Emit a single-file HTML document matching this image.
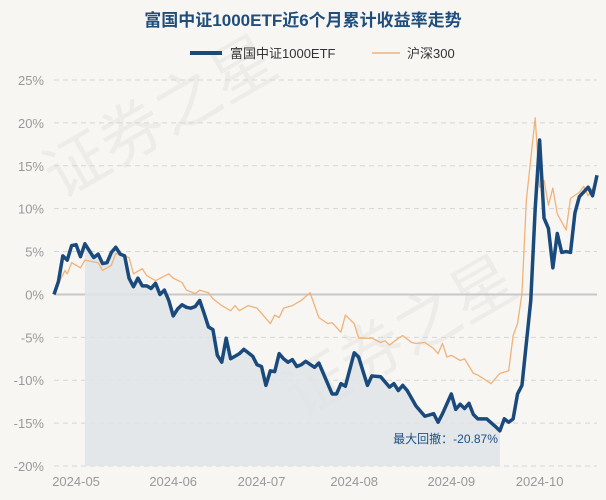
<!DOCTYPE html>
<html><head><meta charset="utf-8"><style>
html,body{margin:0;padding:0;background:#f8f6f2;}
svg{display:block;font-family:"Liberation Sans","Noto Sans CJK SC",sans-serif;}
</style></head><body>
<svg id="chart" width="606" height="500">
<text x="60" y="200" font-size="64" fill="#000" fill-opacity="0.04" transform="rotate(-30 60 200)">证券之星</text>
<text x="300" y="420" font-size="64" fill="#000" fill-opacity="0.04" transform="rotate(-30 300 420)">证券之星</text>
<text x="303" y="26" text-anchor="middle" font-size="17" font-weight="bold" fill="#1f4e7d">富国中证1000ETF近6个月累计收益率走势</text>
<g>
<line x1="190" y1="53" x2="222" y2="53" stroke="#1a4a7c" stroke-width="4"/>
<text x="230" y="58" font-size="13" fill="#333">富国中证1000ETF</text>
<line x1="372" y1="53" x2="400" y2="53" stroke="#f0b27a" stroke-width="1.5"/>
<text x="407" y="58" font-size="13" fill="#333">沪深300</text>
</g>
<g id="grid"></g>
<g id="area"></g>
<g id="lines"></g>
<g id="labels"></g>
</svg>
<script>
const yTicks=[25,20,15,10,5,0,-5,-10,-15,-20];
const xTickLabels=["2024-05","2024-06","2024-07","2024-08","2024-09","2024-10"];
const xTickDays=[5,27,47,68,90,110];
const totalDays=124;
const etfDays=[0,1,2,3,4,5,6,7,8,9,10,11,12,13,14,15,16,17,18,19,20,21,22,23,24,25,26,27,28,29,30,31,32,33,34,35,36,37,38,39,40,41,42,43,44,45,46,47,48,49,50,51,52,53,54,55,56,57,59,60,63,64,65,66,68,69,71,72,74,76,77,78,79,80,82,84,86,87,88,90,91,92,93,94,95,96,98,100,101,102,103,104,105,106,108,109,110,111,112,113,114,115,116,117,118,119,121,122,123];
const etfValues=[0,1.5,4.5,4,5.7,5.8,4.4,5.9,5.1,4.3,4.7,3.6,3.7,4.9,5.5,4.7,4.5,1.9,0.9,1.9,1.0,1.0,0.7,1.3,0,0.5,-0.7,-2.5,-1.7,-1.2,-1.5,-1.6,-1.4,-0.7,-2.2,-3.8,-4.1,-7.1,-7.9,-5.1,-7.5,-7.2,-6.9,-6.4,-6.8,-7.2,-8.2,-8.4,-10.6,-8.9,-9.0,-6.9,-7.5,-7.9,-7.6,-8.4,-8.2,-7.8,-8.5,-8.0,-11.6,-11.6,-10.4,-10.7,-6.8,-7.3,-10.6,-9.5,-9.6,-10.8,-10.4,-11.2,-10.6,-11.2,-13.0,-14.2,-13.9,-14.9,-13.9,-11.6,-13.4,-12.8,-13.3,-12.7,-14.0,-14.5,-14.5,-15.4,-15.9,-14.5,-14.9,-14.5,-11.6,-10.6,-0.7,10.0,18.0,8.9,7.7,3.1,7.1,4.9,5.0,4.9,9.5,11.4,12.5,11.5,13.9];
const hsDays=[0,1,2.5,3,4,6,7,10,11,13,14,17,18,20,21,23,26,27,29,30,32,33,35,36,38,40,41,42,44,46,49,50,51,52,54,56,58,60,62,63,65,66,68,69,72,74,75,76,78,79,81,82,84,86,87,88,89,90,92,93,95,96,99,101,103,104,105,106,107,109,110,111,112,113,114,116,117,119,120,121,122];
const hsValues=[0,1.3,2.8,2.4,3.7,3.1,4.0,3.7,2.8,3.4,4.8,4.3,2.4,3.0,2.2,1.6,2.4,1.9,1.4,0.5,0.1,0.5,0.2,-0.5,-1.3,-1.9,-1.3,-1.9,-1.3,-1.6,-3.4,-2.4,-2.7,-1.6,-1.3,-0.7,0.2,-2.7,-3.4,-3.3,-4.4,-2.4,-3.4,-5.1,-5.1,-5.6,-5.4,-5.9,-5.1,-4.8,-5.6,-5.7,-5.6,-6.3,-6.9,-5.7,-7.3,-7.1,-7.7,-7.5,-9.2,-9.4,-10.4,-9.2,-8.9,-4.8,-3.4,0.1,11.0,20.6,12.5,13.3,10.4,12.4,9.4,7.5,11.2,11.9,12.6,11.5,12.4];
const NS="http://www.w3.org/2000/svg";
const L=54,R=597,T=80,B=466;
function xs(d){return L+d*(R-L)/(totalDays-1);}
function ys(v){return T+(25-v)*(B-T)/45;}
function mk(tag,attrs,parent){const e=document.createElementNS(NS,tag);for(const k in attrs)e.setAttribute(k,attrs[k]);parent.appendChild(e);return e;}
const grid=document.getElementById('grid'),labels=document.getElementById('labels'),area=document.getElementById('area'),lines=document.getElementById('lines');
yTicks.forEach(v=>{
 const ln=mk('line',{x1:L,x2:R,y1:ys(v),y2:ys(v),stroke:v===0?'#c8c8c8':'#d6d6d6','stroke-width':v===0?2:1,'stroke-dasharray':v===0?'none':'5,4'},grid);
 
 
 const t=mk('text',{x:44,y:ys(v)+5,'text-anchor':'end','font-size':13,fill:'#999'},labels);
 t.textContent=v+'%';
 
 
});
xTickLabels.forEach((s,i)=>{
 const t=mk('text',{x:xs(xTickDays[i]),y:486,'text-anchor':'middle','font-size':13,fill:'#999'},labels);
 t.textContent=s;
 
 
});
let pk=0,best=0,pi=0,ti=0;
etfValues.forEach((v,i)=>{if(v>etfValues[pk])pk=i;const dd=(100+v)/(100+etfValues[pk])-1;if(dd<best){best=dd;pi=pk;ti=i;}});
let d='M'+xs(etfDays[pi])+','+B;
for(let i=pi;i<=ti;i++)d+=' L'+xs(etfDays[i])+','+ys(etfValues[i]);
d+=' L'+xs(etfDays[ti])+','+B+' Z';
const ar=mk('path',{d:d,fill:'#dfe4e8','fill-opacity':0.85},area);


const dl=mk('text',{x:xs(etfDays[ti])-2,y:443,'text-anchor':'end','font-size':12,fill:'#1f4e7d'},labels);
dl.textContent='最大回撤：-20.87%';


function poly(ds,vs,color,w,name){
 const p=mk('polyline',{points:ds.map((x,i)=>xs(x)+','+ys(vs[i])).join(' '),fill:'none',stroke:color,'stroke-width':w,'stroke-linejoin':'round'},lines);
 
 
}
poly(hsDays,hsValues,'#f0b27a',1.3,'hs300-line');
poly(etfDays,etfValues,'#1a4a7c',3.5,'etf-line');
</script>
</body></html>
